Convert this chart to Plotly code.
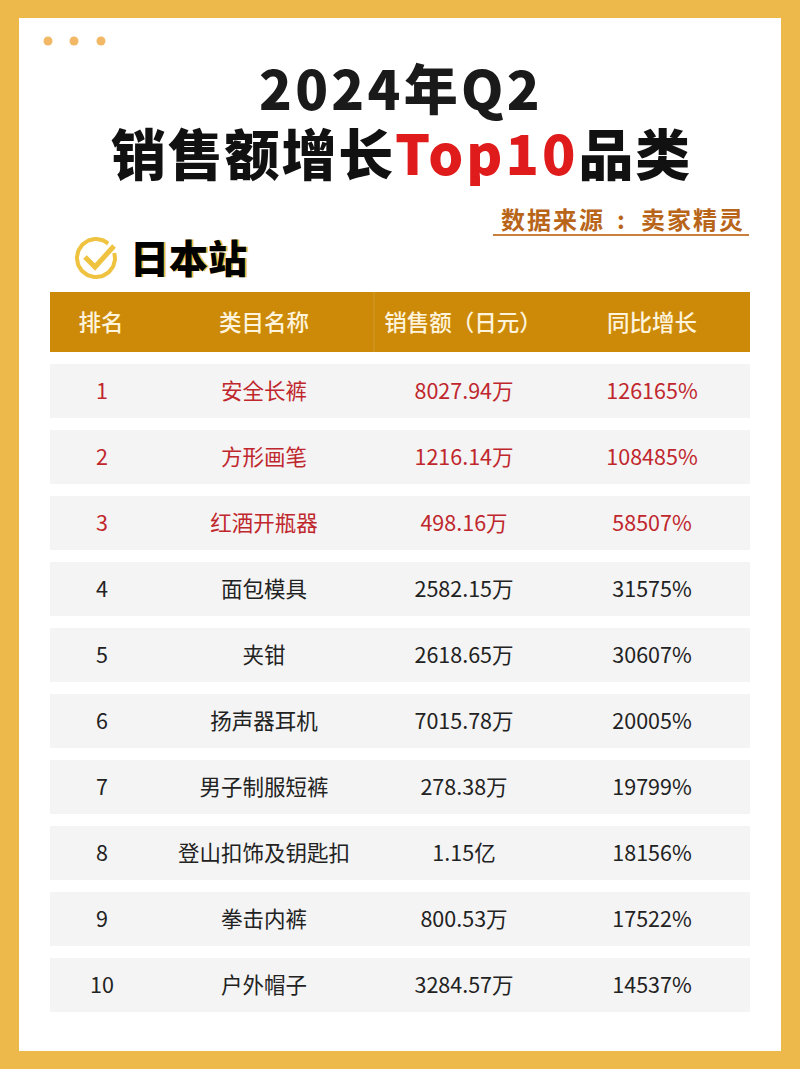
import numpy as np
import plotly.graph_objects as go

# table data
ranks = ["1", "2", "3", "4", "5", "6", "7", "8", "9", "10"]
categories = ["安全长裤", "方形画笔", "红酒开瓶器", "面包模具", "夹钳", "扬声器耳机", "男子制服短裤", "登山扣饰及钥匙扣", "拳击内裤", "户外帽子"]
sales = ["8027.94万", "1216.14万", "498.16万", "2582.15万", "2618.65万", "7015.78万", "278.38万", "1.15亿", "800.53万", "3284.57万"]
growth = ["126165%", "108485%", "58507%", "31575%", "30607%", "20005%", "19799%", "18156%", "17522%", "14537%"]
headers = ["排名", "类目名称", "销售额（日元）", "同比增长"]

FRAME = "#EDB94B"
HEADER = "#CC8A08"
ROW_BG = "#F4F4F4"
RED = "#C0272D"
DARK = "#222222"
CJK = "Noto Sans CJK SC"

col_x = [102, 264, 464, 652]
row_y = [391 + 66 * i for i in range(len(ranks))]
text_shift = 3  # the CJK font sits high in its line box

fig = go.Figure()

shapes = [
    dict(type="rect", x0=0, x1=800, y0=0, y1=1069, fillcolor=FRAME, line_width=0, layer="below"),
    dict(type="rect", x0=19, x1=781, y0=18, y1=1051, fillcolor="white", line_width=0, layer="below"),
    dict(type="rect", x0=50, x1=750, y0=292, y1=352, fillcolor=HEADER, line_width=0, layer="below"),
    dict(type="line", x0=374, x1=374, y0=292, y1=352, line=dict(color="#D29A2C", width=1), layer="below"),
    dict(type="line", x0=493, x1=749, y0=235, y1=235, line=dict(color="#C9803F", width=2), layer="below"),
]
for y in row_y:
    shapes.append(dict(type="rect", x0=50, x1=750, y0=y - 27, y1=y + 27, fillcolor=ROW_BG, line_width=0, layer="below"))
for x in [48, 74, 101]:
    shapes.append(dict(type="circle", x0=x - 4.5, x1=x + 4.5, y0=41 - 4.5, y1=41 + 4.5, fillcolor="#F2B866", line_width=0))

# check icon
t = np.radians(np.linspace(-15, 310, 60))
fig.add_trace(go.Scatter(x=96 + 19 * np.cos(t), y=258 + 19 * np.sin(t), mode="lines",
                         line=dict(color="#EFC23F", width=4), hoverinfo="skip"))
fig.add_trace(go.Scatter(x=[85, 95, 114], y=[257, 267, 246], mode="lines",
                         line=dict(color="#EFC23F", width=5), hoverinfo="skip"))

# table body
for col, values in zip(col_x, [ranks, categories, sales, growth]):
    colors = [RED if i < 3 else DARK for i in range(len(values))]
    fig.add_trace(go.Scatter(x=[col] * len(values), y=[y + text_shift for y in row_y], mode="text", text=values,
                             textposition="middle center",
                             textfont=dict(family=CJK, size=21.5, color=colors), hoverinfo="skip"))

# header row
fig.add_trace(go.Scatter(x=[101, 264, 463, 652], y=[322 + text_shift] * 4, mode="text", text=headers,
                         textposition="middle center",
                         textfont=dict(family=CJK, size=22.5, color="#FFF3DC", weight=500), hoverinfo="skip"))


def label(x, y, text, size, color, weight=900, family=CJK, anchor="center", spacing=0):
    fig.add_annotation(x=x, y=y, text=f"<span style='letter-spacing:{spacing}px'>{text}</span>",
                       showarrow=False, xanchor=anchor, yanchor="middle",
                       font=dict(family=family, size=size, color=color, weight=weight))


label(401, 86, "2024年Q2", 54, "#1A1A1A", spacing=3.3)
label(401, 151, "销售额增长<span style='color:#E01B1B;letter-spacing:3px'>Top10</span>品类", 55, "#111111", spacing=1.8)
# source line is split so the colon keeps its wide gaps
label(553, 218, "数据来源", 24, "#B8651A", weight=700, spacing=2)
label(621, 218, ":", 24, "#B8651A", weight=700)
label(693, 218, "卖家精灵", 24, "#B8651A", weight=700, spacing=2)
label(190, 256, "日本站", 39, "#EFC23F")
label(188, 256, "日本站", 39, "#000000")

fig.update_layout(
    width=800, height=1069, margin=dict(l=0, r=0, t=0, b=0),
    paper_bgcolor="white", plot_bgcolor="white", showlegend=False, shapes=shapes,
    xaxis=dict(range=[0, 800], visible=False, fixedrange=True),
    yaxis=dict(range=[1069, 0], visible=False, fixedrange=True),
)
fig.write_html("out.html", config={"displayModeBar": False},
               post_script="document.body.style.margin='0';")
